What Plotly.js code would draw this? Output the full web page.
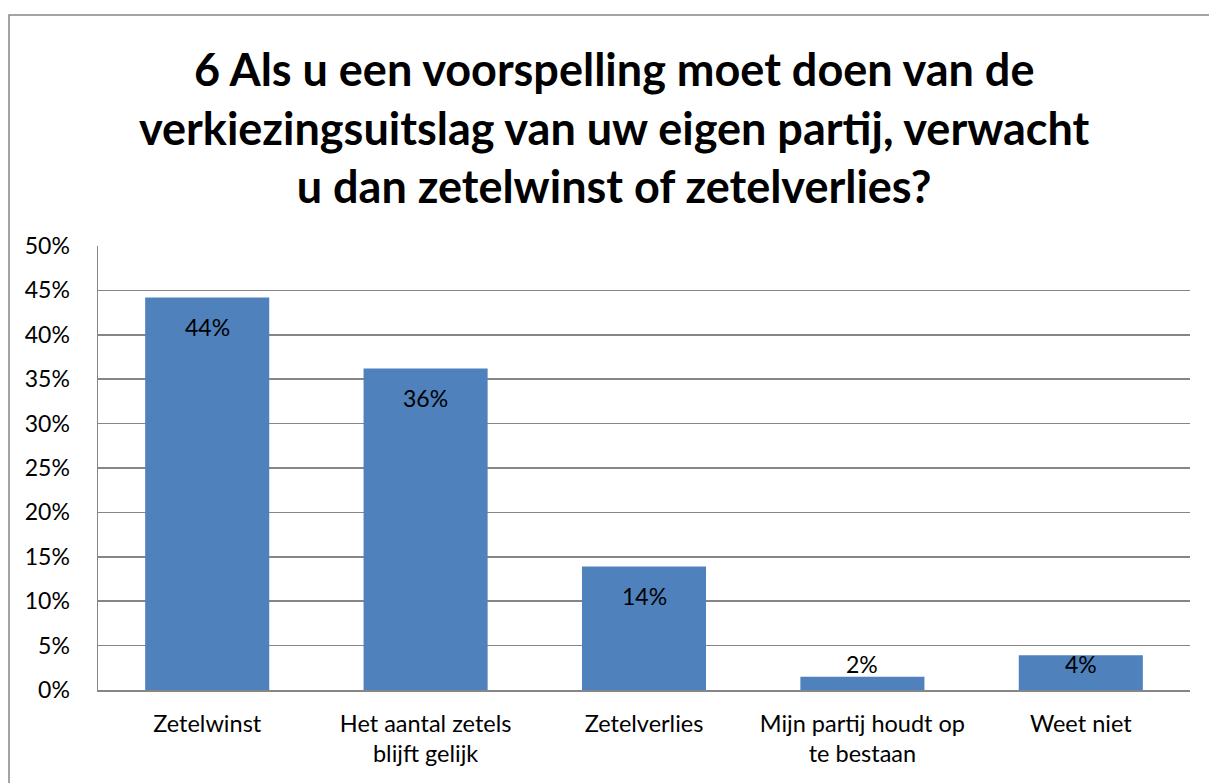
<!DOCTYPE html>
<html><head><meta charset="utf-8">
<script src="https://cdn.plot.ly/plotly-3.0.1.min.js"></script>
<style>html,body{margin:0;padding:0;background:#fff;}#chart{width:1209px;height:783px;}</style>
</head><body><div id="chart"></div>
<script>
const categories = ["Zetelwinst", "Het aantal zetels<br>blijft gelijk", "Zetelverlies", "Mijn partij houdt op<br>te bestaan", "Weet niet"];
const values = [44.2, 36.2, 13.9, 1.5, 3.9];
const labels = ["44%", "36%", "14%", "2%", "4%"];
const yTickVals = [0, 5, 10, 15, 20, 25, 30, 35, 40, 45, 50];
const yTickText = ["0%", "5%", "10%", "15%", "20%", "25%", "30%", "35%", "40%", "45%", "50%"];
const titleText = "6 Als u een voorspelling moet doen van de<br>verkiezingsuitslag van uw eigen partij, verwacht<br>u dan zetelwinst of zetelverlies?";

const FONT = "Lato, 'Open Sans', sans-serif";
const annotations = values.map((v, i) => ({
  x: categories[i], y: Math.max(v - 3.3, 2.9), xref: 'x', yref: 'y',
  text: labels[i], showarrow: false, font: {family: FONT, size: 23, color: '#000'}
}));
annotations.push({
  text: titleText, xref: 'paper', yref: 'paper', x: 0.4734, y: 1.2658,
  xanchor: 'center', yanchor: 'middle', showarrow: false,
  font: {family: FONT, size: 45, color: '#000', weight: 'bold'}
});

const trace = {
  type: 'bar', x: categories, y: values,
  marker: {color: '#4F81BD'}, hoverinfo: 'none'
};

const layout = {
  width: 1209, height: 783,
  margin: {l: 98, r: 19, t: 246, b: 93},
  paper_bgcolor: '#fff', plot_bgcolor: '#fff',
  bargap: 0.432,
  showlegend: false,
  font: {family: FONT, size: 20, color: '#000'},
  xaxis: {
    type: 'category', showline: true, linecolor: '#868686', linewidth: 1.5,
    ticks: '', showgrid: false, tickfont: {family: FONT, size: 23.5, color: '#000'},
    ticklabelstandoff: 12, fixedrange: true
  },
  yaxis: {
    range: [0, 50], tickvals: yTickVals, ticktext: yTickText,
    showline: true, linecolor: '#868686', linewidth: 1.5,
    showgrid: true, gridcolor: '#868686', gridwidth: 1.5,
    zeroline: false, ticks: '', ticklen: 0, ticklabelstandoff: 22,
    tickfont: {family: FONT, size: 23, color: '#000'}, fixedrange: true
  },
  annotations: annotations,
  shapes: [{
    type: 'rect', xref: 'paper', yref: 'paper',
    x0: -0.0815, x1: 1.05, y0: -0.3, y1: 1.5203,
    line: {color: '#868686', width: 1.5}, fillcolor: 'rgba(0,0,0,0)', layer: 'below'
  }]
};

Plotly.newPlot('chart', [trace], layout, {displayModeBar: false, staticPlot: true});
</script></body></html>
